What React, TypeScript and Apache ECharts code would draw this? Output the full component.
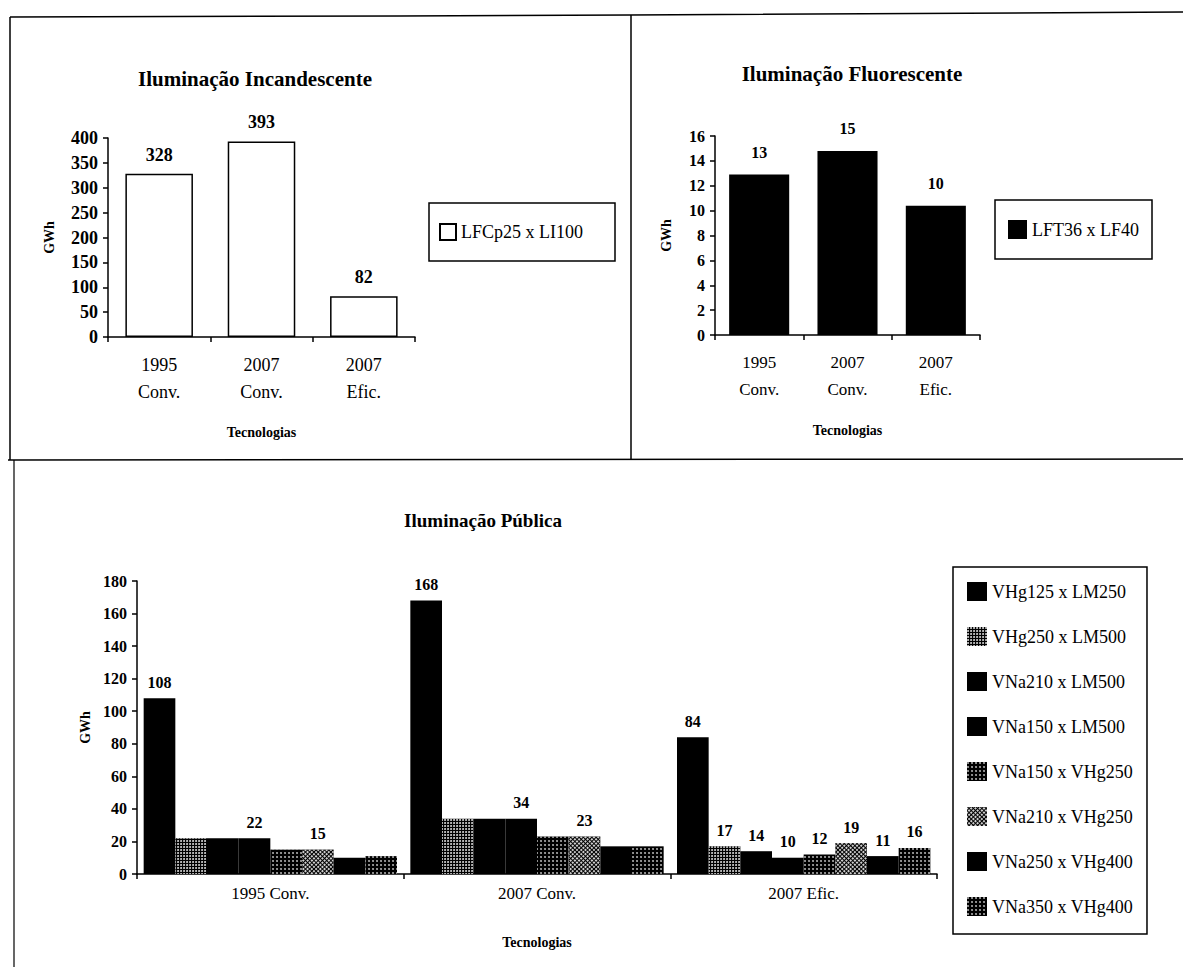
import React, { useEffect, useRef } from "react";
import * as echarts from "echarts";

const topCategories = ["1995\nConv.", "2007\nConv.", "2007\nEfic."];
const incandName = "LFCp25 x LI100";
const incandValues = [328, 393, 82];
const fluorName = "LFT36 x LF40";
const fluorValues = [12.9, 14.8, 10.4];

const pubCategories = ["1995 Conv.", "2007 Conv.", "2007 Efic."];
const pubNames = [
  "VHg125 x LM250",
  "VHg250 x LM500",
  "VNa210 x LM500",
  "VNa150 x LM500",
  "VNa150 x VHg250",
  "VNa210 x VHg250",
  "VNa250 x VHg400",
  "VNa350 x VHg400",
];
const pubValues: number[][] = [
  [108, 168, 84],
  [22, 34, 17],
  [22, 34, 14],
  [22, 34, 10],
  [15, 23, 12],
  [15, 23, 19],
  [10, 17, 11],
  [11, 17, 16],
];
// which categories carry a value label, per series
const pubLabeled: number[][] = [[0, 1, 2], [2], [2], [0, 1, 2], [2], [0, 1, 2], [2], [2]];

const incandTicks = { min: 0, max: 400, interval: 50 };
const fluorTicks = { min: 0, max: 16, interval: 2 };
const pubTicks = { min: 0, max: 180, interval: 20 };

const FONT = "'Liberation Serif', 'DejaVu Serif', serif";
const pubPatterns = ["solid", "light", "solid", "solid", "dark", "hatch", "solid", "dark"];

function decalFor(kind: string): any {
  if (kind === "light")
    return { symbol: "circle", symbolSize: 0.9, color: "rgba(255,255,255,0.9)", dashArrayX: [2, 1], dashArrayY: [2, 1], rotation: 0 };
  if (kind === "dark")
    return { symbol: "circle", symbolSize: 0.8, color: "rgba(255,255,255,0.85)", dashArrayX: [1.5, 2], dashArrayY: [1.5, 2], rotation: 0 };
  if (kind === "hatch")
    return { symbol: "rect", symbolSize: 0.9, color: "rgba(255,255,255,0.9)", dashArrayX: [2, 1], dashArrayY: [2, 1], rotation: Math.PI / 4 };
  return undefined;
}

export default function App() {
  const ref = useRef<HTMLDivElement>(null);
  useEffect(() => {
    if (!ref.current) return;
    const chart = echarts.init(ref.current, undefined, { renderer: "svg" });
    const axisLine = { show: true, lineStyle: { color: "#000", width: 1.5 } };
    const axisTick = { show: true, length: 5, lineStyle: { color: "#000", width: 1.5 } };
    const tickLabel = { color: "#000", fontFamily: FONT, fontSize: 16, fontWeight: "bold" as const };
    const nameStyle = { color: "#000", fontFamily: FONT, fontSize: 14, fontWeight: "bold" as const };
    const titleStyle = (size: number) => ({ fontFamily: FONT, fontSize: size, fontWeight: "bold" as const, color: "#000" });

    const yAxisCommon = (idx: number, ticks: any, gap: number, size: number) => ({
      type: "value",
      gridIndex: idx,
      ...ticks,
      name: "GWh",
      nameLocation: "middle",
      nameGap: gap,
      nameRotate: 90,
      nameTextStyle: nameStyle,
      axisLine,
      axisTick,
      axisLabel: { ...tickLabel, fontSize: size, margin: 10 },
      splitLine: { show: false },
    });

    const pubSeries = pubNames.map((name, si) => {
      const decal = decalFor(pubPatterns[si]);
      return {
        name,
        type: "bar",
        xAxisIndex: 2,
        yAxisIndex: 2,
        barGap: "0%",
        barCategoryGap: "5%",
        itemStyle: { color: "#000", ...(decal ? { decal } : {}) },
        data: pubValues[si].map((v, ci) => ({
          value: v,
          label: { show: pubLabeled[si].includes(ci) },
        })),
        label: {
          position: "top",
          distance: 8,
          color: "#000",
          fontFamily: FONT,
          fontSize: 16,
          fontWeight: "bold",
        },
      };
    });

    const option: any = {
      animation: false,
      backgroundColor: "#fff",
      title: [
        { text: "Iluminação Incandescente", left: 250, top: 63, textAlign: "center", textStyle: titleStyle(21) },
        { text: "Iluminação Fluorescente", left: 847, top: 58, textAlign: "center", textStyle: titleStyle(21) },
        { text: "Iluminação Pública", left: 478, top: 506, textAlign: "center", textStyle: titleStyle(19) },
      ],
      legend: [
        {
          data: [incandName],
          icon: "rect",
          left: 429,
          top: 203,
          padding: [20, 32, 20, 10],
          itemWidth: 16,
          itemHeight: 16,
          borderColor: "#000",
          borderWidth: 1.5,
          textStyle: { fontFamily: FONT, fontSize: 18, color: "#000" },
        },
        {
          data: [fluorName],
          icon: "rect",
          left: 995,
          top: 200,
          padding: [20, 13, 20, 13],
          itemWidth: 19,
          itemHeight: 19,
          borderColor: "#000",
          borderWidth: 1.5,
          textStyle: { fontFamily: FONT, fontSize: 18, color: "#000" },
        },
        {
          data: pubNames,
          icon: "rect",
          orient: "vertical",
          left: 953,
          top: 567,
          padding: [15, 14, 18, 14],
          itemWidth: 20,
          itemHeight: 19,
          itemGap: 26,
          borderColor: "#000",
          borderWidth: 1.5,
          textStyle: { fontFamily: FONT, fontSize: 18, color: "#000" },
        },
      ],
      grid: [
        { left: 108, right: 1183 - 415, top: 138, height: 199, containLabel: false },
        { left: 715, right: 1183 - 980, top: 136, height: 199, containLabel: false },
        { left: 137, right: 1183 - 937, top: 581, height: 293, containLabel: false },
      ],
      xAxis: [
        {
          type: "category",
          gridIndex: 0,
          data: topCategories,
          name: "Tecnologias",
          nameLocation: "middle",
          nameGap: 88,
          nameTextStyle: nameStyle,
          axisLine,
          axisTick,
          axisLabel: { ...tickLabel, fontSize: 18, fontWeight: "normal", lineHeight: 27, margin: 14 },
        },
        {
          type: "category",
          gridIndex: 1,
          data: topCategories,
          name: "Tecnologias",
          nameLocation: "middle",
          nameGap: 88,
          nameTextStyle: nameStyle,
          axisLine,
          axisTick,
          axisLabel: { ...tickLabel, fontSize: 17, fontWeight: "normal", lineHeight: 27, margin: 14 },
        },
        {
          type: "category",
          gridIndex: 2,
          data: pubCategories,
          name: "Tecnologias",
          nameLocation: "middle",
          nameGap: 61,
          nameTextStyle: nameStyle,
          axisLine,
          axisTick,
          axisLabel: { ...tickLabel, fontSize: 17, fontWeight: "normal", margin: 11 },
        },
      ],
      yAxis: [yAxisCommon(0, incandTicks, 52, 18), yAxisCommon(1, fluorTicks, 42, 16), yAxisCommon(2, pubTicks, 44, 16)],
      series: [
        {
          name: incandName,
          type: "bar",
          xAxisIndex: 0,
          yAxisIndex: 0,
          barWidth: "66%",
          itemStyle: { color: "#fff", borderColor: "#000", borderWidth: 1.5 },
          label: { show: true, position: "top", distance: 10, color: "#000", fontFamily: FONT, fontSize: 18, fontWeight: "bold" },
          data: incandValues,
        },
        {
          name: fluorName,
          type: "bar",
          xAxisIndex: 1,
          yAxisIndex: 1,
          barWidth: "68%",
          itemStyle: { color: "#000" },
          label: {
            show: true,
            position: "top",
            distance: 14,
            color: "#000",
            fontFamily: FONT,
            fontSize: 16,
            fontWeight: "bold",
            formatter: (p: any) => String(Math.round(p.value)),
          },
          data: fluorValues,
        },
        ...pubSeries,
      ],
      graphic: [
        { type: "polyline", shape: { points: [[10, 17], [400, 16], [630, 15], [1183, 12]] }, style: { stroke: "#000", lineWidth: 1.5, fill: "none" } },
        { type: "line", shape: { x1: 10, y1: 17, x2: 10, y2: 460 }, style: { stroke: "#000", lineWidth: 1.5 } },
        { type: "line", shape: { x1: 631, y1: 15, x2: 631, y2: 460 }, style: { stroke: "#000", lineWidth: 1.5 } },
        { type: "line", shape: { x1: 8, y1: 460, x2: 1183, y2: 459 }, style: { stroke: "#000", lineWidth: 1.5 } },
        { type: "line", shape: { x1: 14, y1: 460, x2: 14, y2: 967 }, style: { stroke: "#000", lineWidth: 1.2 } },
      ],
    };
    chart.setOption(option);
    return () => chart.dispose();
  }, []);
  return (
    <div
      ref={ref}
      style={{ position: "absolute", left: 0, top: 0, width: 1183, height: 967, background: "#fff" }}
    />
  );
}
